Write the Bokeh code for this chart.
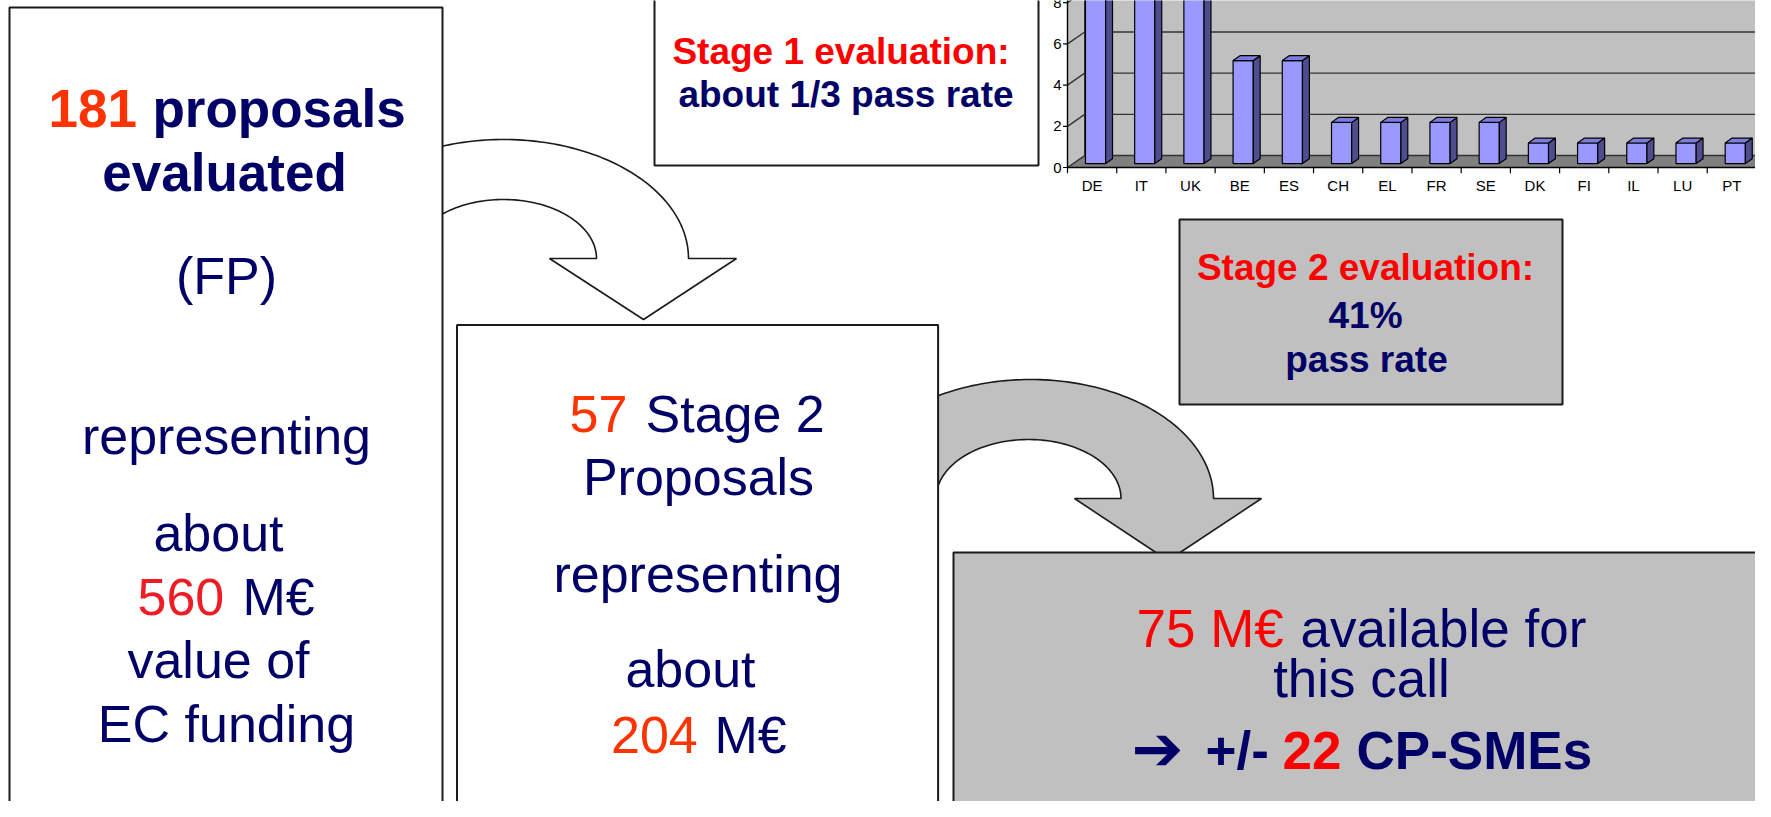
import numpy as np
from bokeh.plotting import figure
from bokeh.models import Range1d
from bokeh.core.properties import value
from bokeh.embed import file_html
from bokeh.resources import INLINE

# ---------------- data ----------------
countries = ["DE", "IT", "UK", "BE", "ES", "CH", "EL", "FR", "SE", "DK", "FI", "IL", "LU", "PT"]
proposals = [13, 13, 13, 5, 5, 2, 2, 2, 2, 1, 1, 1, 1, 1]
y_ticks = [0, 2, 4, 6, 8]
y_tick_labels = ["0", "2", "4", "6", "8"]

# ---------------- canvas ----------------
W, H = 1755, 801
X0, X1 = 0, W
Y0, Y1 = 0, H
FONT = value("Liberation Sans")
NAVY = "#000066"
ORANGE = "#FF3300"
RED = "#FF0000"
GREY = "#C0C0C0"
EDGE = "#1a1a1a"

p = figure(width=W, height=H, x_range=Range1d(X0, X1), y_range=Range1d(Y1, Y0),
           output_backend="svg", toolbar_location=None,
           x_axis_location=None, y_axis_location=None, min_border=0)
p.grid.visible = False
p.outline_line_color = None
p.background_fill_color = "white"
p.border_fill_color = "white"

# chart scales (placed in the top-right of the slide)
AX_X, CAT_W, AX_Y, UNIT = 1067.0, 49.21, 167.0, 20.6
p.extra_x_ranges = {"cx": Range1d((X0 - AX_X) / CAT_W, (X1 - AX_X) / CAT_W)}
p.extra_y_ranges = {"cy": Range1d((AX_Y - Y1) / UNIT, (AX_Y - Y0) / UNIT)}
C = dict(x_range_name="cx", y_range_name="cy")


def txt(x, base, s, size, color, bold=False, align="left", font=FONT, ymid=None):
    y = ymid if ymid is not None else base - 0.358 * size
    p.text(x=[x], y=[y], text=[s], text_font=font, text_font_size=f"{size}px",
           text_color=color, text_font_style="bold" if bold else "normal",
           text_align=align, text_baseline="middle")


def arrow_poly(cxo, cxi, cy, rx, ry, rxi, ryi, x_from, head_l, head_r, tip):
    def arc(cx, rx_, ry_, reverse=False):
        c0 = max(-0.9995, (x_from - cx) / rx_)
        t0 = np.arccos(c0)
        t = np.linspace(t0, 0, 80)
        xs = cx + rx_ * np.cos(t)
        ys = cy - ry_ * np.sin(t)
        if reverse:
            xs, ys = xs[::-1], ys[::-1]
        return list(xs), list(ys)
    ox, oy = arc(cxo, rx, ry)
    ix, iy = arc(cxi, rxi, ryi, reverse=True)
    xs = ox + [head_r, tip[0], head_l] + ix
    ys = oy + [cy, tip[1], cy] + iy
    return xs, ys


# ---------------- arrow 1 (white) + box 1 ----------------
ax, ay = arrow_poly(503, 503, 258, 185, 119, 93, 59, 432, 549, 736, (643, 319))
p.patch(ax, ay, fill_color="white", line_color=EDGE, line_width=1.6)
p.quad(left=9, right=442, top=7, bottom=840, fill_color="white", line_color=EDGE, line_width=2)

# stage 1 box
p.quad(left=654, right=1038, top=-20, bottom=165, fill_color="white", line_color=EDGE, line_width=2)

# ---------------- 3-D column chart ----------------
DX, DY = 0.35, 0.58          # wall depth (category units / value units)
n = len(countries)
TOP = 40
p.patch([0, DX, DX, 0], [0, DY, TOP, TOP], fill_color=GREY, line_color=None, **C)
p.quad(left=[DX], right=[n + DX + 2], bottom=[DY], top=[TOP], fill_color=GREY, line_color=None, **C)
p.patch([0, n, n + DX, DX], [0, 0, DY, DY], fill_color="#808080", line_color=None, **C)
p.line([n, n + DX], [0, DY], line_color="#404040", line_width=1, **C)
grid_x = [[DX, n + DX + 2] for v in y_ticks]
grid_y = [[v + DY, v + DY] for v in y_ticks]
p.multi_line(grid_x, grid_y, line_color="#333333", line_width=1.4, **C)
side_x = [[0, DX] for v in y_ticks]
side_y = [[v, v + DY] for v in y_ticks]
p.multi_line(side_x, side_y, line_color="#333333", line_width=1.4, **C)
p.line([DX, DX], [DY, TOP], line_color="#333333", line_width=1.4, **C)
# axes
p.line([0, 0], [0, TOP], line_color="black", line_width=1.4, **C)
p.line([0, n], [0, 0], line_color="black", line_width=1.4, **C)
p.multi_line([[-0.09, 0] for v in y_ticks], [[v, v] for v in y_ticks], line_color="black", line_width=1.2, **C)
p.multi_line([[i, i] for i in range(n + 1)], [[0, -0.28] for i in range(n + 1)], line_color="black", line_width=1.2, **C)

# bars
BSX, BSY, BW, BDX, BDY = 0.07, 0.19, 0.205, 0.14, 0.24
left = [i + 0.5 + BSX - BW for i in range(n)]
right = [i + 0.5 + BSX + BW for i in range(n)]
bottom = [BSY] * n
top = [v + BSY for v in proposals]
p.quad(left=left, right=right, bottom=bottom, top=top, fill_color="#9999FF", line_color="black", line_width=1.2, **C)
side_xs = [[r, r + BDX, r + BDX, r] for r in right]
side_ys = [[b, b + BDY, t + BDY, t] for b, t in zip(bottom, top)]
p.patches(side_xs, side_ys, fill_color="#4D4D8F", line_color="black", line_width=1.2, **C)
top_xs = [[l, r, r + BDX, l + BDX] for l, r in zip(left, right)]
top_ys = [[t, t, t + BDY, t + BDY] for t in top]
p.patches(top_xs, top_ys, fill_color="#7C7CDD", line_color="black", line_width=1.2, **C)

# tick labels
p.text(x=[1061] * len(y_ticks), y=y_ticks, text=y_tick_labels, text_font=FONT, text_font_size="15px",
       text_color="black", text_align="right", text_baseline="middle", y_range_name="cy")
p.text(x=[i + 0.5 for i in range(n)], y=[184.5] * n, text=countries, text_font=FONT, text_font_size="15px",
       text_color="black", text_align="center", text_baseline="middle", x_range_name="cx")

# ---------------- arrow 2 (grey) + box 2 ----------------
bx, by = arrow_poly(1030, 1028, 498, 183, 119, 92.5, 59, 936.6, 1074, 1261, (1167.5, 560))
p.patch(bx, by, fill_color=GREY, line_color=EDGE, line_width=1.6)
p.quad(left=456.5, right=937.6, top=324.5, bottom=840, fill_color="white", line_color=EDGE, line_width=2)

# stage 2 box
p.quad(left=1179, right=1562, top=219, bottom=404, fill_color=GREY, line_color=EDGE, line_width=2)

# box 3
p.quad(left=953, right=1800, top=552, bottom=840, fill_color=GREY, line_color=EDGE, line_width=2)

# ---------------- texts ----------------
# box 1
txt(48, 127, "181", 53, ORANGE, bold=True)
txt(152, 127, "proposals", 53, NAVY, bold=True)
txt(224, 191, "evaluated", 53, NAVY, bold=True, align="center")
txt(226, 294, "(FP)", 52, NAVY, align="center")
txt(226, 454, "representing", 52, NAVY, align="center")
txt(218, 551, "about", 52, NAVY, align="center")
txt(137, 615, "560", 52, "#EE1C24")
txt(242, 615, "M€", 52, NAVY)
txt(218, 678, "value of", 52, NAVY, align="center")
txt(226, 742, "EC funding", 52, NAVY, align="center")

# box 2
txt(569, 432, "57", 52, ORANGE)
txt(645, 432, "Stage 2", 52, NAVY)
txt(698, 495, "Proposals", 52, NAVY, align="center")
txt(697.5, 592, "representing", 52, NAVY, align="center")
txt(690, 687, "about", 52, NAVY, align="center")
txt(610.5, 753, "204", 52, ORANGE)
txt(714, 753, "M€", 52, NAVY)

# stage 1 box
txt(840.5, 64, "Stage 1 evaluation:", 37, RED, bold=True, align="center")
txt(845.5, 107.5, "about 1/3 pass rate", 37, NAVY, bold=True, align="center")

# stage 2 box
txt(1365, 280, "Stage 2 evaluation:", 37, RED, bold=True, align="center")
txt(1365, 328.5, "41%", 37, NAVY, bold=True, align="center")
txt(1366, 372.5, "pass rate", 37, NAVY, bold=True, align="center")

# box 3
txt(1136, 647, "75 M€", 53, RED)
txt(1300, 647, "available for", 53, NAVY)
txt(1361, 697, "this call", 53, NAVY, align="center")
txt(1131, 0, "➔", 62, NAVY, bold=True, font=value("DejaVu Sans"), ymid=748)
txt(1205, 769, "+/-", 53, NAVY, bold=True)
txt(1282, 769, "22", 53, RED, bold=True)
txt(1356, 769, "CP-SMEs", 53, NAVY, bold=True)

open("out.html", "w").write(file_html(p, INLINE))
